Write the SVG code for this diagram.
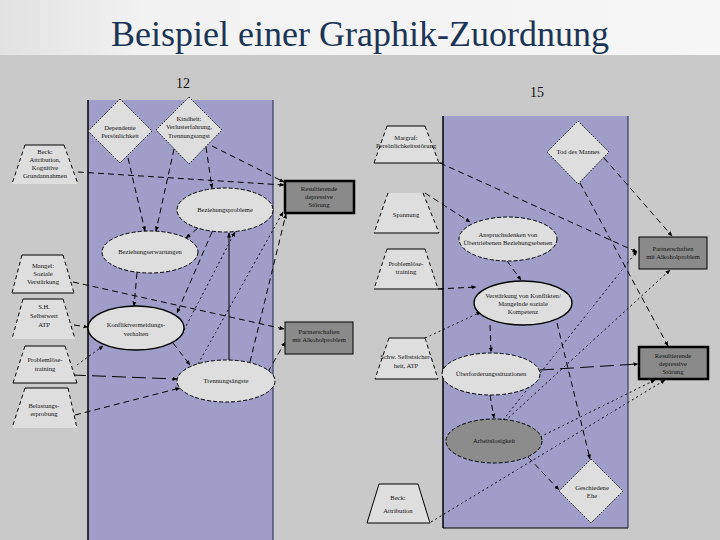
<svg xmlns="http://www.w3.org/2000/svg" width="720" height="540" viewBox="0 0 720 540">
<defs>
<linearGradient id="band" x1="0" y1="0" x2="1" y2="0">
<stop offset="0" stop-color="#e2e2e2"/><stop offset="0.2" stop-color="#f2f2f2"/><stop offset="1" stop-color="#f6f6f6"/>
</linearGradient>
<marker id="ar" viewBox="0 0 10 10" refX="9" refY="5" markerWidth="5" markerHeight="5" orient="auto">
<path d="M0,1 L10,5 L0,9 z" fill="#000"/>
</marker>
<style>
.t{font-family:"Liberation Serif","Times New Roman",serif;font-size:6.6px;fill:#111;text-anchor:middle}
.num{font-family:"Liberation Serif","Times New Roman",serif;font-size:14px;fill:#111;text-anchor:middle}
.title{font-family:"Liberation Serif","Times New Roman",serif;font-size:36px;fill:#1c3557;text-anchor:middle}
.c{fill:none;stroke:#000;stroke-width:1;marker-end:url(#ar)}
.d{stroke-dasharray:6 4}
.ld{stroke-dasharray:14 6}
.p{stroke-dasharray:2 3}
.s{stroke-dasharray:none}
.ell{fill:#dedede;stroke:#000;stroke-width:1;stroke-dasharray:4 2}
.dk{fill:#8c8c8c}
.dia{fill:#dedede;stroke:#000;stroke-width:1;stroke-dasharray:1.5 1.5}
.trf{fill:#dedede;stroke:none}
.tre{stroke:#000;stroke-width:1;fill:none}
.trs{stroke:#000;stroke-width:1;fill:none;stroke-dasharray:4 3}
.box{fill:#8a8a8a;stroke:#000;stroke-width:1}
.boxb{fill:#8a8a8a;stroke:#000;stroke-width:2.5}
</style>
</defs>
<rect width="720" height="540" fill="#c9c9c9"/>
<rect width="720" height="55" fill="url(#band)"/>
<text class="title" x="360" y="46">Beispiel einer Graphik-Zuordnung</text>
<text class="num" x="183" y="88">12</text>
<text class="num" x="537" y="97">15</text>
<rect x="88" y="100" width="185" height="440" fill="#9e9ec9"/>
<line x1="88" y1="100" x2="88" y2="540" stroke="#000" stroke-width="1.5"/>
<line x1="273" y1="100" x2="273" y2="540" stroke="#222255" stroke-width="1"/>
<rect x="443" y="116" width="185" height="412" fill="#9e9ec9"/>
<line x1="443" y1="116" x2="443" y2="528" stroke="#000" stroke-width="1.5"/>
<line x1="443" y1="528" x2="628" y2="528" stroke="#000" stroke-width="1"/>
<line x1="628" y1="116" x2="628" y2="528" stroke="#222255" stroke-width="1"/>
<g id="connectors">
<path class="c d" d="M78,172 L284,185"/>
<path class="c d" d="M212,146 L284,182"/>
<path class="c d" d="M128,158 L145,231"/>
<path class="c d" d="M174,149 L156,231"/>
<path class="c d" d="M206,147 L212,188"/>
<path class="c d" d="M198,228 L186,238"/>
<path class="c d" d="M137,273 L134,306"/>
<path class="c d" d="M212,232 L177,313"/>
<path class="c p" d="M184,330 L235,232"/>
<path class="c s" d="M229,360 L229,233"/>
<path class="c d" d="M250,362 L286,214"/>
<path class="c p" d="M198,364 L283,212"/>
<path class="c d" d="M73,282 L284,329"/>
<path class="c d" d="M268,372 L285,342"/>
<path class="c d" d="M74,325 L88,327"/>
<path class="c p" d="M77,365 L103,346"/>
<path class="c ld" d="M72,375 L177,379"/>
<path class="c d" d="M75,415 L180,388"/>
<path class="c d" d="M173,343 L190,365"/>
<path class="c d" d="M440,163 L637,252"/>
<path class="c d" d="M604,158 L672,236"/>
<path class="c d" d="M580,183 L668,346"/>
<path class="c d" d="M425,193 L470,222"/>
<path class="c d" d="M507,261 L521,280"/>
<path class="c d" d="M438,289 L476,287"/>
<path class="c p" d="M425,338 L481,312"/>
<path class="c d" d="M490,325 L491,352"/>
<path class="c ld" d="M540,370 L638,364"/>
<path class="c d" d="M490,395 L494,418"/>
<path class="c d" d="M528,457 L559,490"/>
<path class="c d" d="M557,323 L590,459"/>
<path class="c p" d="M431,522 L665,380"/>
<path class="c p" d="M540,437 L655,380"/>
<path class="c p" d="M503,420 L637,251"/>
<path class="c p" d="M505,421 L670,270"/>
</g>
<g id="n-dependente">
<polygon class="dia" points="120,99 152,131 120,163 88,131"/>
<text class="t" x="120" y="130">Dependente</text>
<text class="t" x="120" y="138">Persönlichkeit</text>
</g>
<g id="n-kindheit">
<polygon class="dia" points="189,97 222,130 189,164 156,130"/>
<text class="t" x="189" y="121">Kindheit:</text>
<text class="t" x="189" y="129">Verlusterfahrung,</text>
<text class="t" x="189" y="138">Trennungsangst</text>
</g>
<g id="n-beck1">
<polygon class="trf" points="25,145 64,145 78,184 12,184"/>
<line class="tre" x1="25" y1="145" x2="64" y2="145"/>
<line class="trs" x1="25" y1="145" x2="12" y2="184"/>
<line class="trs" x1="64" y1="145" x2="78" y2="184"/>
<text class="t" x="45" y="154">Beck:</text>
<text class="t" x="45" y="162">Attribution,</text>
<text class="t" x="45" y="170">Kognitive</text>
<text class="t" x="45" y="178">Grundannahmen</text>
</g>
<g id="n-bezprob">
<ellipse class="ell" cx="225" cy="210" rx="48" ry="22"/>
<text class="t" x="225" y="212">Beziehungsprobleme</text>
</g>
<g id="n-bezerw">
<ellipse class="ell" cx="150" cy="252" rx="48" ry="21"/>
<text class="t" x="150" y="254">Beziehungserwartungen</text>
</g>
<g id="n-mangel">
<polygon class="trf" points="22,255 63,255 74,293 12,293"/>
<line class="tre" x1="22" y1="255" x2="63" y2="255"/>
<line class="tre" x1="12" y1="293" x2="74" y2="293"/>
<line class="trs" x1="22" y1="255" x2="12" y2="293"/>
<line class="trs" x1="63" y1="255" x2="74" y2="293"/>
<text class="t" x="43" y="268">Mangel:</text>
<text class="t" x="43" y="276">Soziale</text>
<text class="t" x="43" y="284">Verstärkung</text>
</g>
<g id="n-sh">
<polygon class="trf" points="23,299 63,299 75,339 12,339"/>
<line class="tre" x1="23" y1="299" x2="63" y2="299"/>
<line class="trs" x1="23" y1="299" x2="12" y2="339"/>
<line class="trs" x1="63" y1="299" x2="75" y2="339"/>
<text class="t" x="44" y="309">S.H.</text>
<text class="t" x="44" y="318">Selbstwert</text>
<text class="t" x="44" y="327">ATP</text>
</g>
<g id="n-konflikt">
<ellipse class="ell" cx="136" cy="328" rx="48" ry="22" style="stroke-dasharray:none;stroke-width:1.3"/>
<text class="t" x="136" y="327">Konfliktvermeidungs-</text>
<text class="t" x="136" y="336">verhalten</text>
</g>
<g id="n-problem1">
<polygon class="trf" points="25,346 65,346 77,383 13,383"/>
<line class="tre" x1="25" y1="346" x2="65" y2="346"/>
<line class="tre" x1="13" y1="383" x2="77" y2="383"/>
<line class="trs" x1="25" y1="346" x2="13" y2="383"/>
<line class="trs" x1="65" y1="346" x2="77" y2="383"/>
<text class="t" x="45" y="362">Problemlöse-</text>
<text class="t" x="45" y="371">training</text>
</g>
<g id="n-belast">
<polygon class="trf" points="25,388 68,388 77,428 12,428"/>
<line class="tre" x1="25" y1="388" x2="68" y2="388"/>
<line class="trs" x1="25" y1="388" x2="12" y2="428"/>
<line class="trs" x1="68" y1="388" x2="77" y2="428"/>
<text class="t" x="44" y="408">Belastungs-</text>
<text class="t" x="44" y="416">erprobung</text>
</g>
<g id="n-trennung">
<ellipse class="ell" cx="226" cy="381" rx="49" ry="21"/>
<text class="t" x="226" y="383">Trennungsängste</text>
</g>
<g id="n-result1">
<rect class="boxb" x="285" y="181" width="69" height="32"/>
<text class="t" x="319" y="191">Resultierende</text>
<text class="t" x="319" y="199">depressive</text>
<text class="t" x="319" y="207">Störung</text>
</g>
<g id="n-partner1">
<rect class="box" x="285" y="322" width="68" height="32"/>
<text class="t" x="319" y="334">Partnerschaften</text>
<text class="t" x="319" y="342">mit Alkoholproblem</text>
</g>
<g id="n-margraf">
<polygon class="trf" points="387,126 425,126 439,163 374,163"/>
<line class="tre" x1="387" y1="126" x2="425" y2="126"/>
<line class="tre" x1="374" y1="163" x2="443" y2="163"/>
<line class="trs" x1="387" y1="126" x2="374" y2="163"/>
<line class="trs" x1="425" y1="126" x2="439" y2="163"/>
<text class="t" x="406" y="140">Margraf:</text>
<text class="t" x="406" y="148">Persönlichkeitsstörung</text>
</g>
<g id="n-tod">
<polygon class="dia" points="578,121 609,152 578,184 547,152"/>
<text class="t" x="578" y="154">Tod des Mannes</text>
</g>
<g id="n-spannung">
<polygon class="trf" points="388,193 423,193 439,233 374,233"/>
<line class="tre" x1="374" y1="233" x2="439" y2="233"/>
<line class="trs" x1="388" y1="193" x2="374" y2="233"/>
<line class="trs" x1="423" y1="193" x2="439" y2="233"/>
<text class="t" x="406" y="217">Spannung</text>
</g>
<g id="n-ausgeloest">
<ellipse class="ell" cx="508" cy="239" rx="49" ry="22"/>
<text class="t" x="508" y="237">Anspruchsdenken von</text>
<text class="t" x="508" y="245">Übertriebenen Beziehungsebenen</text>
</g>
<g id="n-problem2">
<polygon class="trf" points="387,249 425,249 438,289 374,289"/>
<line class="tre" x1="387" y1="249" x2="425" y2="249"/>
<line class="tre" x1="374" y1="289" x2="443" y2="289"/>
<line class="trs" x1="387" y1="249" x2="374" y2="289"/>
<line class="trs" x1="425" y1="249" x2="438" y2="289"/>
<text class="t" x="406" y="266">Problemlöse-</text>
<text class="t" x="406" y="274">training</text>
</g>
<g id="n-verstaerk">
<ellipse class="ell" cx="523" cy="303" rx="49" ry="22" style="stroke-dasharray:none;stroke-width:1.3"/>
<text class="t" x="523" y="298">Verstärkung von Konflikten/</text>
<text class="t" x="523" y="306">Mangelnde soziale</text>
<text class="t" x="523" y="314">Kompetenz</text>
</g>
<g id="n-schw">
<polygon class="trf" points="389,338 425,338 438,379 375,379"/>
<line class="tre" x1="389" y1="338" x2="425" y2="338"/>
<line class="tre" x1="375" y1="379" x2="438" y2="379"/>
<line class="trs" x1="389" y1="338" x2="375" y2="379"/>
<line class="trs" x1="425" y1="338" x2="438" y2="379"/>
<text class="t" x="406" y="359">Schw. Selbstsicher-</text>
<text class="t" x="406" y="368">heit, ATP</text>
</g>
<g id="n-ueberford">
<ellipse class="ell" cx="491" cy="374" rx="49" ry="21"/>
<text class="t" x="491" y="376">Überforderungssituationen</text>
</g>
<g id="n-arbeit">
<ellipse class="ell dk" cx="494" cy="441" rx="48" ry="22"/>
<text class="t" x="494" y="443">Arbeitslosigkeit</text>
</g>
<g id="n-geschieden">
<polygon class="dia" points="591,459 623,491 591,523 559,491"/>
<text class="t" x="592" y="490">Geschiedene</text>
<text class="t" x="592" y="498">Ehe</text>
</g>
<g id="n-beck2">
<polygon class="trf" points="379,484 418,484 430,523 367,523"/>
<polygon class="tre" points="379,484 418,484 430,523 367,523"/>
<text class="t" x="398" y="500">Beck:</text>
<text class="t" x="398" y="513">Attribution</text>
</g>
<g id="n-partner2">
<rect class="box" x="639" y="237" width="68" height="32"/>
<text class="t" x="673" y="251">Partnerschaften</text>
<text class="t" x="673" y="259">mit Alkoholproblem</text>
</g>
<g id="n-result2">
<rect class="boxb" x="639" y="347" width="69" height="32"/>
<text class="t" x="673" y="358">Resultierende</text>
<text class="t" x="673" y="366">depressive</text>
<text class="t" x="673" y="374">Störung</text>
</g>
</svg>
